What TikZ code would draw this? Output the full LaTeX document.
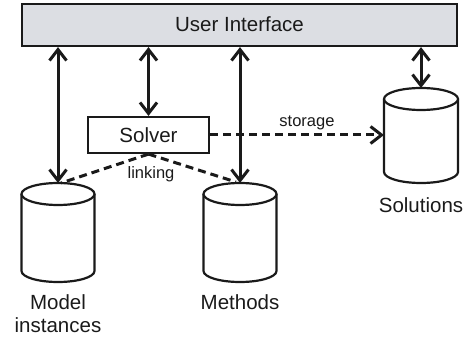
\documentclass[tikz,border=0pt]{standalone}
\usepackage{fontspec}
\setmainfont{Liberation Sans}
\usetikzlibrary{arrows.meta}
\definecolor{uifill}{HTML}{DCDEE3}
\definecolor{ink}{HTML}{1A1A1A}
\tikzset{
  boxstyle/.style={draw=ink, line width=2.2pt, inner sep=0pt},
  bigtext/.style={text=ink, font=\fontsize{20.5}{23}\selectfont, inner sep=0pt, align=center},
  smalltext/.style={text=ink, font=\fontsize{16.5}{19}\selectfont, inner sep=0pt},
  barb/.tip={Straight Barb[length=11pt,width=17pt,line width=3pt]},
  dlink/.style={draw=ink, line width=3pt, barb-barb},
  dashlink/.style={draw=ink, line width=3pt, dash pattern=on 8pt off 5pt},
  cyl/.style={draw=ink, line width=2.2pt, fill=white}
}
\begin{document}
\begin{tikzpicture}[x=1pt,y=1pt]
\useasboundingbox (0,0) rectangle (465,340);
% User interface
\node[boxstyle, fill=uifill, minimum width=435pt, minimum height=42pt] (ui) at (239.5,315) {};
\node[bigtext] (uitext) at (239.5,316) {User Interface};
% Solver
\node[boxstyle, fill=white, minimum width=121pt, minimum height=36pt] (solver) at (148.5,205) {};
\node[bigtext] (solvertext) at (148.5,205) {Solver};
% Model instances
\draw[cyl] (21.5,146) -- (21.5,69) arc[start angle=180,end angle=360,x radius=36.5,y radius=11] -- (94.5,146);
\draw[cyl] (58,146) ellipse[x radius=36.5,y radius=11];
\coordinate (modeltop) at (58,157);
% Methods
\draw[cyl] (203.5,146) -- (203.5,69) arc[start angle=180,end angle=360,x radius=36.5,y radius=11] -- (276.5,146);
\draw[cyl] (240,146) ellipse[x radius=36.5,y radius=11];
\coordinate (methtop) at (240,157);
% Solutions
\draw[cyl] (384,241) -- (384,168) arc[start angle=180,end angle=360,x radius=37,y radius=11] -- (458,241);
\draw[cyl] (421,241) ellipse[x radius=37,y radius=11];
\coordinate (soltop) at (421,252);
\coordinate (solleft) at (384,205);
% Labels
\node[bigtext] (modellabel) at (58,26) {Model\\instances};
\node[bigtext] (methlabel) at (240,38) {Methods};
\node[bigtext] (sollabel) at (421,135) {Solutions};
% Arrows
\draw[dlink] (ui.south -| modeltop) -- (modeltop);
\draw[dlink] (ui.south -| solver.north) -- (solver.north);
\draw[dlink] (ui.south -| methtop) -- (methtop);
\draw[dlink] (ui.south -| soltop) -- (soltop);
% Dashed
\draw[dashlink, -barb] (solver.east) -- (solleft);
\node[smalltext] (storage) at (307,217) {storage};
\draw[dashlink] (solver.south) -- (61,157);
\draw[dashlink] (solver.south) -- (236,158);
\node[smalltext] (linking) at (151,166) {linking};
\end{tikzpicture}
\end{document}
